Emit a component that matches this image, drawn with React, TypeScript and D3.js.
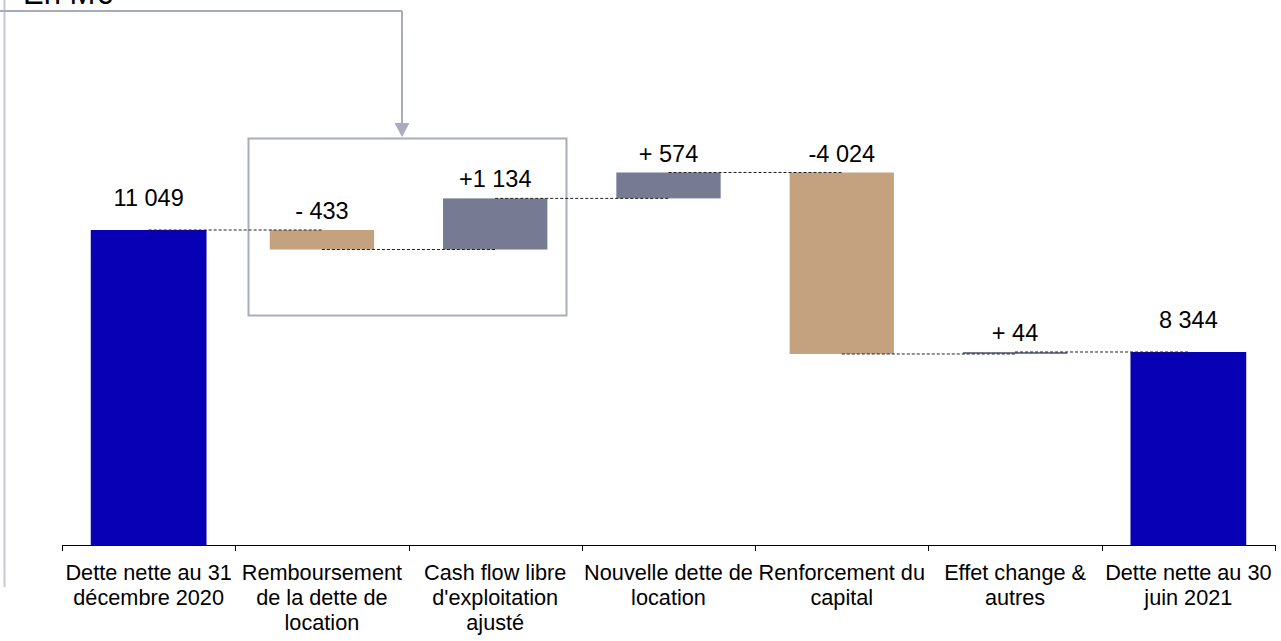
import React from "react";
import * as d3 from "d3";

const categories: string[][] = [
  ["Dette nette au 31", "décembre 2020"],
  ["Remboursement", "de la dette de", "location"],
  ["Cash flow libre", "d'exploitation", "ajusté"],
  ["Nouvelle dette de", "location"],
  ["Renforcement du", "capital"],
  ["Effet change &", "autres"],
  ["Dette nette au 30", "juin 2021"],
];
const startValue = 11049;
const deltas = [-433, 1134, 574, -4024, 44];
const endValue = 8344;
const valueLabels = ["11 049", "- 433", "+1 134", "+ 574", "-4 024", "+ 44", "8 344"];
const unitLabel = "En M€";

const W = 1281;
const H = 641;
const COL_TOTAL = "#0800b4";
const COL_NEG = "#c4a280";
const COL_POS = "#767b93";
const COL_FRAME = "#a9abbf";
const FONT = "'Liberation Sans', Arial, sans-serif";

type Bar = { i: number; y0: number; y1: number; kind: "total" | "neg" | "pos"; end: number };

export default function App() {
  const keys = categories.map((_, i) => String(i));
  const x = d3.scaleBand<string>().domain(keys).range([62, 1275]).paddingInner(0).paddingOuter(0);
  const y = d3.scaleLinear().domain([4064, 12324]).range([545, 172.5]);
  const bw = x.bandwidth();

  const bars: Bar[] = [];
  bars.push({ i: 0, y0: y.domain()[0], y1: startValue, kind: "total", end: startValue });
  let run = startValue;
  deltas.forEach((d, k) => {
    const next = run + d;
    bars.push({ i: k + 1, y0: run, y1: next, kind: d < 0 ? "neg" : "pos", end: next });
    run = next;
  });
  bars.push({ i: deltas.length + 1, y0: y.domain()[0], y1: endValue, kind: "total", end: endValue });

  const cx = (i: number) => (x(String(i)) as number) + bw / 2;

  return (
    <svg width={W} height={H} style={{ position: "absolute", left: 0, top: 0, background: "#fff" }}>
      {/* unit label (cropped at top) */}
      <text x={23} y={4} fontFamily={FONT} fontSize={31} fill="#000">{unitLabel}</text>
      {/* frame arrow */}
      <line x1={4.5} y1={0} x2={4.5} y2={587} stroke="#c8c9d6" strokeWidth={2} />
      <line x1={0} y1={11} x2={402} y2={11} stroke={COL_FRAME} strokeWidth={2} />
      <line x1={402} y1={11} x2={402} y2={124} stroke={COL_FRAME} strokeWidth={2} />
      <path d="M394.5,123 L409.5,123 L402,137 Z" fill={COL_FRAME} />
      <rect x={248.5} y={138.5} width={318} height={177} fill="none" stroke={COL_FRAME} strokeWidth={2} />

      {/* bars */}
      {bars.map((b) => {
        const w = b.kind === "total" ? bw * 0.668 : bw * 0.602;
        const top = Math.min(y(b.y0), y(b.y1));
        const bot = Math.max(y(b.y0), y(b.y1));
        const fill = b.kind === "total" ? COL_TOTAL : b.kind === "neg" ? COL_NEG : COL_POS;
        return <rect key={b.i} x={cx(b.i) - w / 2} y={top} width={w} height={Math.max(bot - top, 1.5)} fill={fill} />;
      })}

      {/* connectors */}
      {bars.slice(0, -1).map((b) => (
        <line key={"c" + b.i} x1={cx(b.i)} x2={cx(b.i + 1)} y1={y(b.end)} y2={y(b.end)}
          stroke="#222" strokeWidth={1} strokeDasharray="3,2" />
      ))}

      {/* value labels */}
      {bars.map((b) => {
        const top = Math.min(y(b.y0), y(b.y1));
        const off = b.kind === "total" ? 24 : 11;
        return (
          <text key={"v" + b.i} x={cx(b.i)} y={top - off} textAnchor="middle" fontFamily={FONT} fontSize={23.5} fill="#000">
            {valueLabels[b.i]}
          </text>
        );
      })}

      {/* axis */}
      <line x1={62} x2={1275} y1={545.5} y2={545.5} stroke="#000" strokeWidth={1} />
      {[...keys.map((k) => x(k) as number), 1275].map((t, k) => (
        <line key={"t" + k} x1={Math.round(t) + 0.5} x2={Math.round(t) + 0.5} y1={545} y2={551} stroke="#000" strokeWidth={1} />
      ))}
      {categories.map((lines, i) => (
        <text key={"a" + i} x={cx(i)} textAnchor="middle" fontFamily={FONT} fontSize={21.7} fill="#000">
          {lines.map((l, j) => (
            <tspan key={j} x={cx(i)} y={580 + j * 25}>{l}</tspan>
          ))}
        </text>
      ))}
    </svg>
  );
}
